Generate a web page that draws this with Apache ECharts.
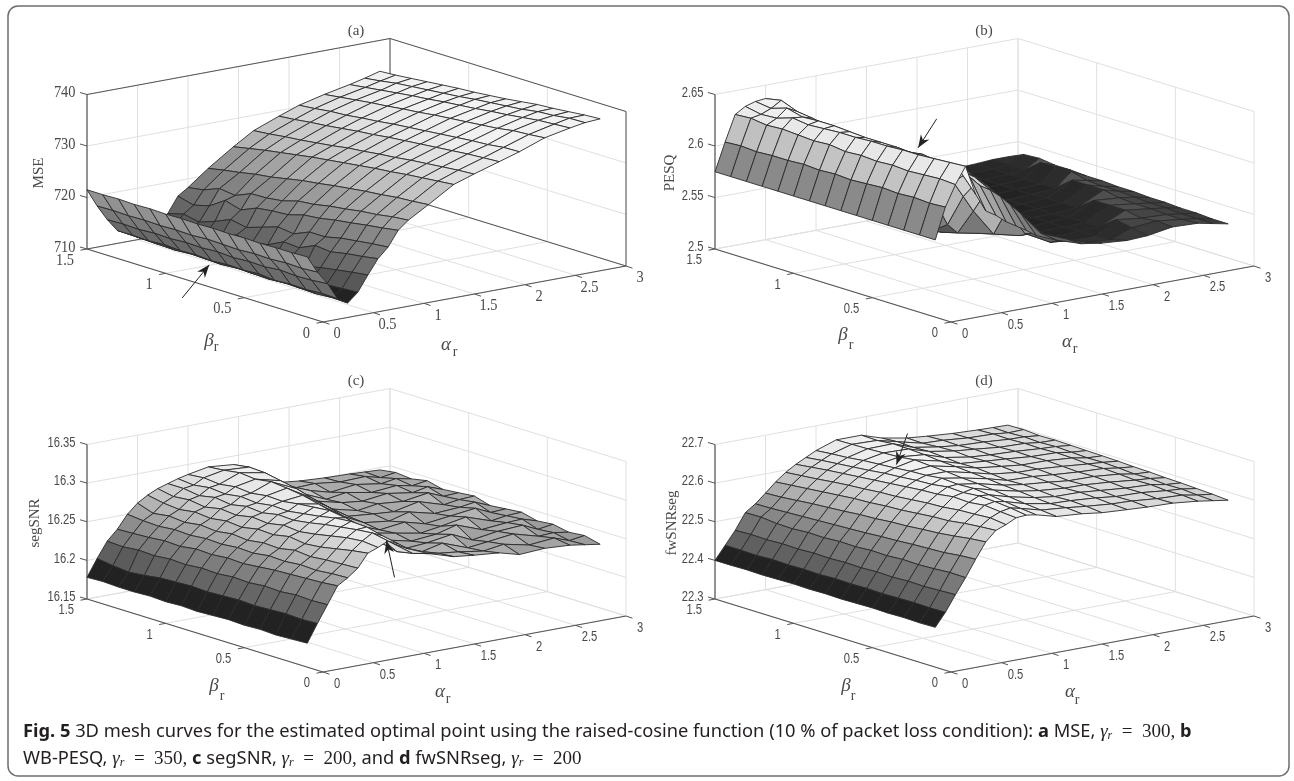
<!DOCTYPE html>
<html><head><meta charset="utf-8">
<style>html,body{margin:0;padding:0;background:#fff}#c{width:1294px;height:781px}</style>
<script src="https://cdn.jsdelivr.net/npm/echarts@6/dist/echarts.min.js"></script></head>
<body><div id="c"></div>
<script>
const alphaNodes=[0,.1,.2,.3,.4,.5,.6,.7,.8,.9,1,1.2,1.45,1.65,1.9,2.1,2.35,2.6,2.75,2.9];
const betaNodes=[.1,.2,.3,.4,.5,.6,.7,.8,.9,1,1.1,1.2,1.3,1.4,1.5];
const alphaTicks=[0,.5,1,1.5,2,2.5,3];
const betaTicks=[0,.5,1,1.5];
const zTicksMSE=[710,720,730,740];
const zTicksPESQ=[2.5,2.55,2.6,2.65];
const zTicksSegSNR=[16.15,16.2,16.25,16.3,16.35];
const zTicksFwSNRseg=[22.3,22.4,22.5,22.6,22.7];
const zMSE=[
[721.7,718.4,715.8,712.5,711.3,713.0,716.0,718.8,720.7,723.6,725.2,727.5,730.5,731.8,733.3,734.5,736.3,737.3,737.8,738.0],
[721.6,718.2,715.5,712.6,711.4,712.8,715.6,718.3,720.4,723.1,724.9,727.2,730.2,731.6,733.1,734.4,736.0,737.1,737.7,737.8],
[721.6,718.3,715.4,712.4,711.2,712.6,715.1,717.9,720.0,722.7,724.4,727.0,729.9,731.3,732.9,734.0,735.8,736.9,737.3,737.5],
[721.5,718.1,715.6,712.5,711.3,712.3,714.6,717.3,719.6,722.2,724.1,726.6,729.6,731.0,732.6,733.8,735.3,736.5,737.1,737.2],
[721.6,718.2,715.3,712.3,711.4,712.5,713.9,717.6,718.9,721.8,723.6,726.3,729.2,730.7,732.3,733.5,735.0,736.1,736.6,737.0],
[721.5,718.0,715.4,712.6,711.2,712.1,714.2,716.2,718.9,721.2,723.2,725.9,728.9,730.3,732.0,733.2,734.7,735.8,736.3,736.6],
[721.6,718.1,715.2,712.4,711.3,711.9,713.4,716.4,717.6,720.9,722.6,725.5,728.5,730.0,731.7,732.9,734.4,735.4,736.0,736.2],
[721.5,718.2,715.4,712.5,711.4,712.0,713.0,714.9,718.0,720.0,722.3,725.0,728.1,729.6,731.4,732.6,734.1,735.1,735.7,735.9],
[721.6,718.0,715.2,712.3,711.2,711.7,713.2,714.4,717.0,719.8,721.4,724.6,727.7,729.3,731.0,732.3,733.7,734.8,735.3,735.6],
[721.5,718.1,715.3,712.5,711.3,711.6,712.6,714.9,716.0,719.4,721.0,724.0,727.3,728.8,730.7,731.9,733.4,734.4,735.0,735.4],
[721.6,718.0,715.1,712.4,711.4,711.5,712.2,713.6,716.6,718.1,720.9,723.4,726.8,728.4,730.3,731.6,733.0,734.1,734.7,735.1],
[721.5,718.1,715.2,712.6,711.2,711.7,712.0,713.0,715.3,719.0,719.6,723.0,726.3,728.0,729.9,731.2,732.7,733.7,734.4,734.8],
[721.6,718.0,715.0,712.4,711.3,711.4,711.9,713.4,714.2,717.0,720.0,722.4,725.8,727.7,729.6,731.0,732.3,733.3,734.1,734.5],
[721.5,718.1,715.1,712.5,711.4,711.5,711.7,712.6,714.8,716.2,718.8,721.9,725.2,727.3,729.2,730.6,731.9,732.9,733.6,734.2],
[721.5,718.0,715.0,712.5,711.5,711.5,711.6,712.5,714.0,717.0,718.3,721.3,724.6,727.0,728.9,730.3,731.5,732.5,733.2,734.0]];
const zPESQ=[
[2.575,2.605,2.625,2.641,2.612,2.594,2.588,2.580,2.574,2.568,2.561,2.553,2.545,2.542,2.540,2.541,2.545,2.544,2.541,2.538],
[2.575,2.604,2.626,2.640,2.630,2.622,2.612,2.606,2.598,2.588,2.578,2.555,2.545,2.538,2.536,2.544,2.546,2.543,2.541,2.538],
[2.575,2.605,2.625,2.639,2.632,2.626,2.620,2.614,2.604,2.592,2.578,2.550,2.537,2.535,2.535,2.547,2.544,2.543,2.541,2.539],
[2.575,2.604,2.624,2.638,2.633,2.628,2.623,2.618,2.612,2.603,2.594,2.572,2.541,2.534,2.535,2.536,2.547,2.544,2.542,2.539],
[2.575,2.605,2.625,2.638,2.633,2.630,2.622,2.610,2.598,2.582,2.566,2.540,2.534,2.534,2.534,2.535,2.547,2.544,2.542,2.540],
[2.575,2.604,2.624,2.637,2.634,2.628,2.610,2.590,2.570,2.550,2.540,2.536,2.534,2.533,2.534,2.535,2.547,2.545,2.543,2.540],
[2.575,2.603,2.625,2.637,2.634,2.622,2.597,2.565,2.546,2.539,2.536,2.535,2.533,2.533,2.534,2.534,2.536,2.548,2.544,2.541],
[2.575,2.604,2.624,2.636,2.634,2.623,2.600,2.566,2.545,2.538,2.536,2.534,2.533,2.533,2.533,2.534,2.535,2.548,2.544,2.541],
[2.575,2.603,2.626,2.636,2.635,2.625,2.604,2.570,2.546,2.538,2.535,2.534,2.533,2.533,2.533,2.534,2.535,2.548,2.545,2.542],
[2.575,2.604,2.625,2.635,2.636,2.627,2.607,2.574,2.548,2.538,2.535,2.534,2.533,2.533,2.533,2.533,2.534,2.536,2.549,2.542],
[2.575,2.603,2.626,2.634,2.636,2.629,2.610,2.578,2.550,2.538,2.535,2.534,2.533,2.533,2.533,2.533,2.534,2.535,2.549,2.543],
[2.575,2.603,2.627,2.636,2.635,2.632,2.613,2.582,2.552,2.539,2.535,2.534,2.533,2.533,2.533,2.533,2.534,2.535,2.548,2.543],
[2.575,2.602,2.626,2.631,2.639,2.634,2.618,2.588,2.556,2.541,2.536,2.534,2.534,2.533,2.533,2.534,2.534,2.535,2.536,2.545],
[2.575,2.603,2.628,2.630,2.634,2.640,2.624,2.594,2.562,2.545,2.538,2.535,2.534,2.534,2.534,2.534,2.535,2.535,2.537,2.544],
[2.575,2.602,2.627,2.633,2.636,2.637,2.628,2.600,2.570,2.550,2.540,2.537,2.536,2.535,2.535,2.535,2.535,2.536,2.537,2.537]];
const zSegSNR=[
[16.181,16.204,16.226,16.248,16.256,16.266,16.283,16.288,16.294,16.288,16.279,16.268,16.258,16.255,16.252,16.245,16.247,16.245,16.242,16.239],
[16.180,16.203,16.225,16.246,16.255,16.265,16.280,16.290,16.298,16.292,16.280,16.262,16.256,16.253,16.248,16.252,16.245,16.248,16.241,16.244],
[16.179,16.204,16.226,16.245,16.253,16.264,16.276,16.288,16.296,16.297,16.284,16.258,16.252,16.258,16.246,16.249,16.253,16.244,16.245,16.242],
[16.180,16.203,16.224,16.244,16.254,16.262,16.272,16.284,16.293,16.298,16.289,16.263,16.250,16.252,16.257,16.245,16.250,16.252,16.243,16.246],
[16.179,16.202,16.225,16.243,16.252,16.264,16.270,16.280,16.290,16.296,16.294,16.270,16.254,16.248,16.251,16.258,16.246,16.249,16.250,16.244],
[16.180,16.203,16.223,16.241,16.253,16.260,16.273,16.277,16.286,16.292,16.297,16.276,16.257,16.252,16.246,16.250,16.256,16.245,16.248,16.249],
[16.179,16.202,16.224,16.239,16.250,16.261,16.269,16.279,16.283,16.289,16.295,16.283,16.260,16.250,16.254,16.247,16.251,16.255,16.246,16.247],
[16.178,16.201,16.222,16.240,16.251,16.258,16.270,16.275,16.284,16.286,16.293,16.288,16.266,16.253,16.249,16.256,16.248,16.250,16.253,16.245],
[16.179,16.202,16.223,16.238,16.249,16.260,16.266,16.277,16.280,16.287,16.290,16.293,16.272,16.255,16.252,16.250,16.257,16.247,16.250,16.251],
[16.178,16.201,16.221,16.239,16.250,16.257,16.268,16.273,16.282,16.284,16.291,16.296,16.277,16.258,16.250,16.254,16.251,16.256,16.248,16.249],
[16.179,16.200,16.222,16.236,16.248,16.259,16.265,16.275,16.278,16.286,16.288,16.298,16.283,16.262,16.254,16.251,16.255,16.250,16.254,16.247],
[16.178,16.197,16.220,16.237,16.249,16.256,16.267,16.271,16.281,16.283,16.290,16.295,16.287,16.266,16.252,16.256,16.250,16.253,16.249,16.252],
[16.178,16.195,16.221,16.235,16.247,16.258,16.264,16.274,16.277,16.285,16.287,16.297,16.291,16.270,16.257,16.250,16.254,16.249,16.252,16.248],
[16.179,16.197,16.219,16.234,16.248,16.255,16.266,16.272,16.280,16.282,16.289,16.294,16.292,16.273,16.254,16.255,16.251,16.252,16.247,16.250],
[16.178,16.200,16.220,16.233,16.250,16.262,16.270,16.276,16.280,16.284,16.287,16.292,16.289,16.272,16.255,16.252,16.250,16.249,16.248,16.247]];
const zFwSNRseg=[
[22.403,22.437,22.478,22.517,22.560,22.600,22.625,22.635,22.648,22.650,22.646,22.632,22.627,22.620,22.616,22.613,22.611,22.604,22.598,22.592],
[22.402,22.436,22.476,22.518,22.557,22.596,22.622,22.640,22.651,22.656,22.650,22.636,22.630,22.624,22.618,22.616,22.610,22.607,22.600,22.595],
[22.403,22.437,22.474,22.515,22.552,22.590,22.618,22.637,22.655,22.660,22.655,22.640,22.628,22.626,22.621,22.615,22.613,22.606,22.603,22.597],
[22.402,22.436,22.475,22.513,22.550,22.585,22.612,22.635,22.650,22.662,22.660,22.645,22.631,22.624,22.623,22.618,22.612,22.609,22.602,22.599],
[22.403,22.435,22.473,22.514,22.548,22.582,22.610,22.630,22.652,22.658,22.664,22.650,22.635,22.627,22.621,22.620,22.615,22.608,22.605,22.600],
[22.402,22.436,22.474,22.511,22.545,22.578,22.606,22.628,22.646,22.660,22.662,22.654,22.638,22.630,22.624,22.618,22.617,22.611,22.604,22.602],
[22.401,22.435,22.472,22.512,22.543,22.576,22.602,22.624,22.644,22.654,22.665,22.656,22.642,22.628,22.626,22.621,22.616,22.613,22.607,22.603],
[22.402,22.436,22.473,22.509,22.540,22.572,22.600,22.620,22.640,22.652,22.660,22.660,22.645,22.632,22.624,22.623,22.618,22.612,22.609,22.605],
[22.401,22.434,22.471,22.510,22.538,22.570,22.596,22.618,22.636,22.648,22.658,22.662,22.648,22.635,22.627,22.621,22.620,22.615,22.608,22.606],
[22.402,22.435,22.472,22.507,22.536,22.566,22.594,22.614,22.632,22.645,22.654,22.665,22.650,22.634,22.628,22.624,22.618,22.616,22.610,22.607],
[22.401,22.434,22.470,22.508,22.534,22.563,22.590,22.611,22.628,22.640,22.651,22.660,22.654,22.637,22.626,22.622,22.619,22.614,22.612,22.608],
[22.400,22.435,22.471,22.505,22.532,22.560,22.586,22.607,22.624,22.636,22.648,22.658,22.656,22.640,22.629,22.624,22.617,22.615,22.610,22.609],
[22.401,22.433,22.469,22.506,22.530,22.556,22.582,22.602,22.620,22.632,22.643,22.656,22.657,22.638,22.627,22.621,22.618,22.613,22.612,22.608],
[22.400,22.434,22.470,22.510,22.528,22.552,22.578,22.598,22.615,22.628,22.640,22.655,22.653,22.640,22.624,22.622,22.616,22.614,22.610,22.611],
[22.400,22.434,22.468,22.509,22.527,22.550,22.574,22.594,22.610,22.623,22.636,22.654,22.654,22.637,22.625,22.620,22.615,22.612,22.611,22.610]];
const arrowTipMSE=[.12,.8,713.1], arrowTipPESQ=[.5,.53,2.635], arrowTipSegSNR=[.8,.11,16.294], arrowTipFwSNRseg=[.8,.86,22.69];

const SERIF='"Liberation Serif","Times New Roman",serif';
const SANS='"Liberation Sans",Arial,sans-serif';
const stopsSteep=[[0,0x22],[.03,0x50],[.12,0x62],[.4,0x88],[.65,0xbb],[.9,0xe8],[1,0xf2]];
const stopsFlat=[[0,0x22],[.14,0x50],[.4,0x88],[.65,0xbb],[.9,0xe8],[1,0xf2]];
const panels=[
 {title:'(a)',zName:'MSE',z:zMSE,zt:zTicksMSE,shade:[711.4,734],stops:stopsSteep,ox:323,oy:322,box:true,tick:'16px '+SERIF,sx:.9,nameDx:-284,tip:arrowTipMSE,tail:[-27,33],
  beta:[-114,19,-107,25],alpha:[123,23,132,30]},
 {title:'(b)',zName:'PESQ',z:zPESQ,zt:zTicksPESQ,shade:[2.533,2.635],stops:stopsFlat,ox:951,oy:322,box:false,tick:'14px '+SANS,sx:.8,nameDx:-281,tip:arrowTipPESQ,tail:[18.6,-29],
  beta:[-108,13,-100,23],alpha:[116,20,124,27]},
 {title:'(c)',zName:'segSNR',z:zSegSNR,zt:zTicksSegSNR,shade:[16.185,16.30],stops:stopsSteep,ox:323,oy:672,box:false,tick:'14px '+SANS,sx:.8,nameDx:-288,tip:arrowTipSegSNR,tail:[8,37],
  beta:[-109,14,-101,24],alpha:[117,20,125,27]},
 {title:'(d)',zName:'fwSNRseg',z:zFwSNRseg,zt:zTicksFwSNRseg,shade:[22.405,22.66],stops:stopsSteep,ox:951,oy:672,box:false,tick:'14px '+SANS,sx:.8,nameDx:-279,tip:arrowTipFwSNRseg,tail:[11,-31],
  beta:[-105,14,-98,24],alpha:[119,20,126,28]}
];
const VA=[303,56],VB=[-236,73],HZ=154.5;
const G_LEFT=260,G_TOP=290,G_W=600,G_H=320;
function grayOf(t,s){
  t=Math.max(0,Math.min(1,t));
  for(let i=1;i<s.length;i++) if(t<=s[i][0]){
    const f=(t-s[i-1][0])/(s[i][0]-s[i-1][0]);
    const g=Math.round(s[i-1][1]+f*(s[i][1]-s[i-1][1]));
    return 'rgb('+g+','+g+','+g+')';
  }
  return '#f2f2f2';
}
const grids=[],xA=[],yA=[],series=[];
panels.forEach((p,k)=>{
  grids.push({left:p.ox-G_LEFT,top:p.oy-G_TOP,width:G_W,height:G_H});
  xA.push({type:'value',gridIndex:k,min:-G_LEFT,max:G_W-G_LEFT,show:false});
  yA.push({type:'value',gridIndex:k,min:G_H-G_TOP,max:-G_TOP,show:false});
  const z0=p.zt[0],z1=p.zt[p.zt.length-1];
  const proj=(a,b,z)=>[a/3*VA[0]+b/1.5*VB[0],-(a/3*VA[1]+b/1.5*VB[1]+(z-z0)/(z1-z0)*HZ)];
  const L=[],lt='#e0e0e0',dk='#555555';
  const seg=(f,t,c,w)=>L.push({f,t,c,w:w||1});
  p.zt.forEach(v=>{seg(proj(0,1.5,v),proj(3,1.5,v),lt);seg(proj(3,1.5,v),proj(3,0,v),lt);});
  alphaTicks.forEach(a=>{seg(proj(a,1.5,z0),proj(a,1.5,z1),lt);seg(proj(a,0,z0),proj(a,1.5,z0),lt);});
  betaTicks.forEach(b=>{seg(proj(3,b,z0),proj(3,b,z1),lt);seg(proj(0,b,z0),proj(3,b,z0),lt);});
  if(p.box){
    seg(proj(0,1.5,z1),proj(3,1.5,z1),dk);seg(proj(3,1.5,z1),proj(3,0,z1),dk);
    seg(proj(3,1.5,z0),proj(3,1.5,z1),dk);seg(proj(3,0,z0),proj(3,0,z1),dk);
    seg(proj(0,1.5,z0),proj(3,1.5,z0),dk);seg(proj(3,1.5,z0),proj(3,0,z0),dk);
  }
  seg(proj(0,1.5,z0),proj(0,1.5,z1),dk,1.2);
  seg(proj(0,0,z0),proj(3,0,z0),dk,1.2);
  seg(proj(0,0,z0),proj(0,1.5,z0),dk,1.2);
  const add=(q,d)=>[q[0]+d[0],q[1]+d[1]];
  p.zt.forEach(v=>{const q=proj(0,1.5,v);seg(q,add(q,[-7,-2]),dk);});
  alphaTicks.forEach(a=>{const q=proj(a,0,z0);seg(q,add(q,[6.5,2.2]),dk);});
  betaTicks.forEach(b=>{const q=proj(0,b,z0);seg(q,add(q,[-6.5,1.2]),dk);});
  series.push({type:'custom',coordinateSystem:'cartesian2d',xAxisIndex:k,yAxisIndex:k,silent:true,animation:false,clip:false,
    data:L.map((_,i)=>[i,0]),
    renderItem:(par,api)=>{const l=L[par.dataIndex],a=api.coord(l.f),b=api.coord(l.t);
      return {type:'line',shape:{x1:a[0],y1:a[1],x2:b[0],y2:b[1]},style:{stroke:l.c,lineWidth:l.w}};}});
  const quads=[];
  for(let j=betaNodes.length-2;j>=0;j--) for(let i=alphaNodes.length-2;i>=0;i--) quads.push([i,j]);
  series.push({type:'custom',coordinateSystem:'cartesian2d',xAxisIndex:k,yAxisIndex:k,silent:true,animation:false,clip:false,
    data:quads,
    renderItem:(par,api)=>{const q=quads[par.dataIndex],i=q[0],j=q[1];
      const c=(ii,jj)=>api.coord(proj(alphaNodes[ii],betaNodes[jj],p.z[jj][ii]));
      const t=(p.z[j][i]-p.shade[0])/(p.shade[1]-p.shade[0]);
      return {type:'polygon',shape:{points:[c(i,j),c(i+1,j),c(i+1,j+1),c(i,j+1)]},
        style:{fill:grayOf(t,p.stops),stroke:'#2a2a2a',lineWidth:.9,lineJoin:'round'}};}});
  series.push({type:'custom',coordinateSystem:'cartesian2d',xAxisIndex:k,yAxisIndex:k,silent:true,animation:false,clip:false,
    data:[p.tip],
    renderItem:(par,api)=>{const tip=api.coord(proj(p.tip[0],p.tip[1],p.tip[2]));
      const s=[tip[0]+p.tail[0],tip[1]+p.tail[1]],n=Math.hypot(p.tail[0],p.tail[1]),ux=p.tail[0]/n,uy=p.tail[1]/n,vx=-uy,vy=ux;
      const pt=(d,w)=>[tip[0]+ux*d+vx*w,tip[1]+uy*d+vy*w];
      return {type:'group',children:[
        {type:'line',shape:{x1:s[0],y1:s[1],x2:tip[0],y2:tip[1]},style:{stroke:'#222',lineWidth:1}},
        {type:'polygon',shape:{points:[tip,pt(13,5),pt(9,0),pt(13,-5)]},style:{fill:'#222',stroke:null}}]};}});
  const T=[];
  const txt=(q,text,font,align,extra)=>T.push(Object.assign({q,text,font,align},extra||{}));
  p.zt.forEach(v=>txt(add(proj(0,1.5,v),[-11.5,-1.5]),String(v),p.tick,'right',{sx:p.sx}));
  betaTicks.forEach(b=>txt(add(proj(0,b,z0),[-13,11.5]),String(b),p.tick,'right',{sx:p.sx}));
  alphaTicks.forEach(a=>txt(add(proj(a,0,z0),[14,12]),String(a),p.tick,'center',{sx:p.sx}));
  txt([33,-291],p.title,'15px '+SERIF,'center');
  txt([p.nameDx,-149],p.zName,'15px '+SERIF,'center',{rot:Math.PI/2});
  txt([p.beta[0],p.beta[1]],'β','italic 19px '+SERIF,'center');
  txt([p.beta[2],p.beta[3]],'r','14px '+SERIF,'center');
  txt([p.alpha[0],p.alpha[1]],'α','italic 19px '+SERIF,'center');
  txt([p.alpha[2],p.alpha[3]],'r','14px '+SERIF,'center');
  series.push({type:'custom',coordinateSystem:'cartesian2d',xAxisIndex:k,yAxisIndex:k,silent:true,animation:false,clip:false,
    data:T.map((_,i)=>[i,0]),
    renderItem:(par,api)=>{const o=T[par.dataIndex],a=api.coord(o.q);
      return {type:'text',x:a[0],y:a[1],rotation:o.rot||0,scaleX:o.sx||1,
        style:{x:0,y:0,text:o.text,font:o.font,fill:'#4a4a4a',align:o.align,verticalAlign:'middle'}};}});
});
const CAP='"Noto Sans","Open Sans",sans-serif',CS=18.3,INK='#231f20';
const capRich={
  b:{fontFamily:CAP,fontWeight:'bold',fontSize:CS,color:INK},
  m:{fontFamily:CAP,fontSize:CS,color:INK},
  g:{fontFamily:SERIF,fontStyle:'italic',fontSize:19,color:INK},
  s:{fontFamily:SERIF,fontStyle:'italic',fontSize:12,color:INK,padding:[8,0,0,0]},
  n:{fontFamily:SERIF,fontSize:19,color:INK}
};
const chart=echarts.init(document.getElementById('c'),null,{renderer:'canvas'});
chart.setOption({animation:false,backgroundColor:'#fff',grid:grids,xAxis:xA,yAxis:yA,series,
 graphic:[
  {type:'rect',z:-1,shape:{x:8,y:6,width:1281,height:770,r:10},style:{fill:'none',stroke:'#6d6e71',lineWidth:1.5}},
  {type:'text',x:23,y:732,style:{rich:capRich,verticalAlign:'middle',text:'{b|Fig. 5} {m|3D mesh curves for the estimated optimal point using the raised-cosine function (10 % of packet loss condition):} {b|a} {m|MSE,} {g|γ}{s|r}{n|\u2002=\u2002300,} {b|b}',font:CS+'px '+CAP,fill:INK}},
  {type:'text',x:23,y:759,style:{rich:capRich,verticalAlign:'middle',text:'{m|WB-PESQ,} {g|γ}{s|r}{n|\u2002=\u2002350,} {b|c} {m|segSNR,} {g|γ}{s|r}{n|\u2002=\u2002200,} {m|and} {b|d} {m|fwSNRseg,} {g|γ}{s|r}{n|\u2002=\u2002200}',font:CS+'px '+CAP,fill:INK}}
 ]});
</script></body></html>
